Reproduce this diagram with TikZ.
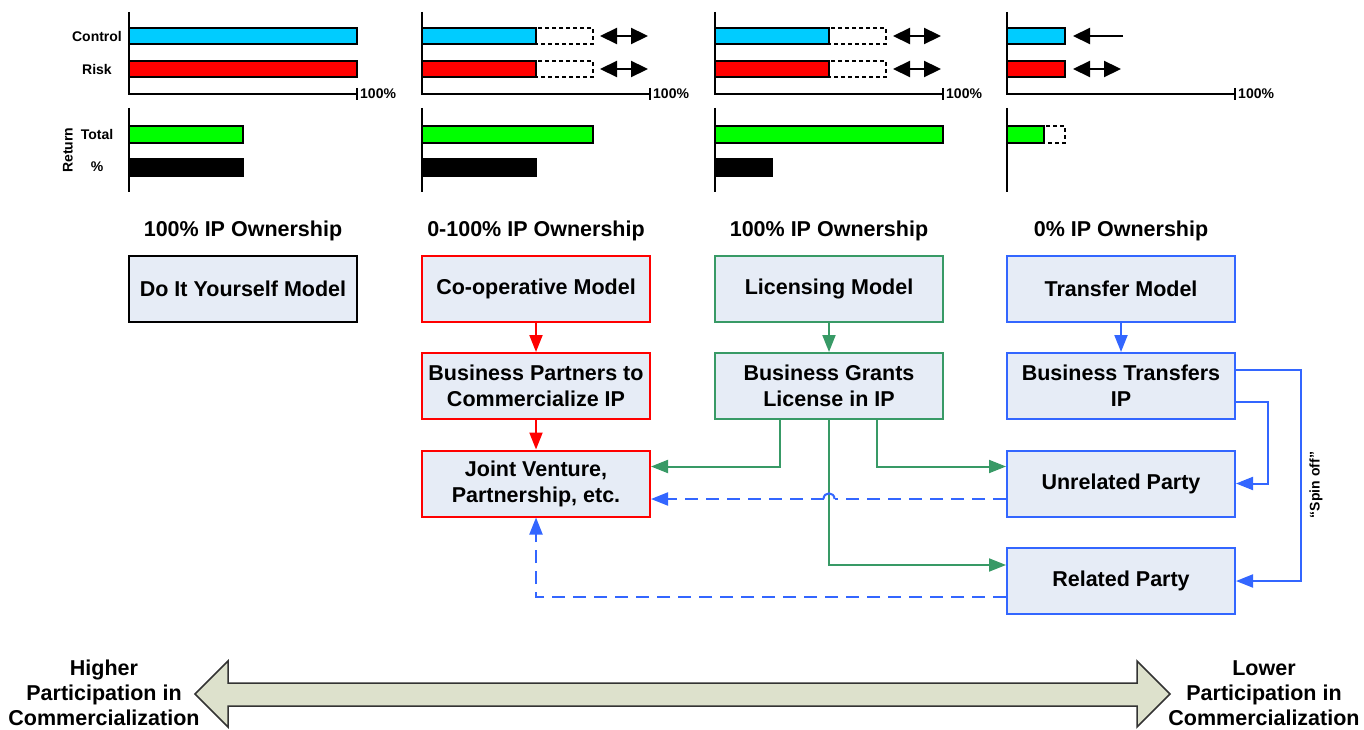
\documentclass[tikz,border=0pt]{standalone}
\usepackage{fontspec}
\setmainfont{Liberation Sans}
\usetikzlibrary{arrows.meta}
\definecolor{boxfill}{RGB}{230,236,246}
\definecolor{ipred}{RGB}{255,0,0}
\definecolor{ipgreen}{RGB}{56,154,102}
\definecolor{ipblue}{RGB}{51,102,255}
\definecolor{barcyan}{RGB}{0,204,255}
\definecolor{bargreen}{RGB}{0,255,0}
\definecolor{bandfill}{RGB}{221,225,204}
\begin{document}
\begin{tikzpicture}[x=1pt,y=-1pt,
  model/.style={draw=#1, fill=boxfill, line width=2pt, minimum width=228pt,
    minimum height=66pt, align=center, inner sep=0pt,
    font=\fontsize{21.5}{26}\selectfont\bfseries},
  title/.style={font=\fontsize{21.5}{26}\selectfont\bfseries},
  side/.style={align=center, font=\fontsize{21.5}{25}\selectfont\bfseries},
  small/.style={font=\fontsize{14}{16}\selectfont\bfseries, inner sep=0pt},
  axis/.style={line width=2pt, black},
  bar/.style={draw=black, line width=2.2pt},
  ghost/.style={draw=black, line width=1.8pt, dash pattern=on 4pt off 3pt},
  bigtip/.style={line width=2.2pt, black},
  twoway/.style={bigtip, {Triangle[length=17pt,width=16pt]}-{Triangle[length=17pt,width=16pt]}},
  oneway/.style={bigtip, -{Triangle[length=17pt,width=16pt]}},
  flow/.style={line width=2pt, -{Triangle[length=17pt,width=13pt]}},
  dflow/.style={flow, dash pattern=on 13pt off 8pt},
]
\useasboundingbox (0,0) rectangle (1364,730);

% ---------- bar charts: axes ----------
\foreach \x in {129,422,715,1007}{
  \draw[axis] (\x,12) -- (\x,94) -- (\x+228,94);
  \draw[axis] (\x+228,88) -- (\x+228,100);
  \draw[axis] (\x,108) -- (\x,192);
  \node[small, anchor=west] at (\x+231,94) {100\%};
}

% row labels
\node[small] (lctl) at (97,36) {Control};
\node[small] (lrisk) at (97,69) {Risk};
\node[small] (ltot) at (97,134) {Total};
\node[small] (lpct) at (97,167) {\%};
\node[small, rotate=90] (lret) at (68,150) {Return};

% ---------- do it yourself ----------
\filldraw[bar, fill=barcyan] (129,28) rectangle (357,44);
\filldraw[bar, fill=ipred] (129,61) rectangle (357,77);
\filldraw[bar, fill=bargreen] (129,126) rectangle (243,143);
\filldraw[bar, fill=black] (129,159) rectangle (243,176);

% ---------- co-operative ----------
\draw[ghost] (536,28) rectangle (593,44);
\draw[ghost] (536,61) rectangle (593,77);
\filldraw[bar, fill=barcyan] (422,28) rectangle (536,44);
\filldraw[bar, fill=ipred] (422,61) rectangle (536,77);
\filldraw[bar, fill=bargreen] (422,126) rectangle (593,143);
\filldraw[bar, fill=black] (422,159) rectangle (536,176);
\draw[twoway] (600,36) -- (648,36);
\draw[twoway] (600,69) -- (648,69);

% ---------- licensing ----------
\draw[ghost] (829,28) rectangle (886,44);
\draw[ghost] (829,61) rectangle (886,77);
\filldraw[bar, fill=barcyan] (715,28) rectangle (829,44);
\filldraw[bar, fill=ipred] (715,61) rectangle (829,77);
\filldraw[bar, fill=bargreen] (715,126) rectangle (943,143);
\filldraw[bar, fill=black] (715,159) rectangle (772,176);
\draw[twoway] (893,36) -- (941,36);
\draw[twoway] (893,69) -- (941,69);

% ---------- transfer ----------
\draw[ghost] (1044,126) rectangle (1065,143);
\filldraw[bar, fill=barcyan] (1007,28) rectangle (1065,44);
\filldraw[bar, fill=ipred] (1007,61) rectangle (1065,77);
\filldraw[bar, fill=bargreen] (1007,126) rectangle (1044,143);
\draw[oneway] (1123,36) -- (1073,36);
\draw[twoway] (1073,69) -- (1121,69);

% ---------- ownership titles ----------
\node[title] (t1) at (243,231) {100\% IP Ownership};
\node[title] (t2) at (536,231) {0-100\% IP Ownership};
\node[title] (t3) at (829,231) {100\% IP Ownership};
\node[title] (t4) at (1121,231) {0\% IP Ownership};

% ---------- model boxes ----------
\node[model=black] (diy) at (243,288.5) {Do It Yourself Model};
\node[model=ipred] (coop) at (536,288.5) {Co-operative Model};
\node[model=ipred] (partners) at (536,386) {Business Partners to\\Commercialize IP};
\node[model=ipred] (jv) at (536,483.5) {Joint Venture,\\Partnership, etc.};
\node[model=ipgreen] (lic) at (829,288.5) {Licensing Model};
\node[model=ipgreen] (grants) at (829,386) {Business Grants\\License in IP};
\node[model=ipblue] (transfer) at (1121,288.5) {Transfer Model};
\node[model=ipblue] (bt) at (1121,386) {Business Transfers\\IP};
\node[model=ipblue] (unrel) at (1121,483.5) {Unrelated Party};
\node[model=ipblue] (rel) at (1121,581) {Related Party};

% ---------- connectors ----------
\draw[flow, ipred] (coop) -- (partners);
\draw[flow, ipred] (partners) -- (jv);
\draw[flow, ipgreen] (lic) -- (grants);
\draw[flow, ipblue] (transfer) -- (bt);

\draw[flow, ipgreen] ([xshift=-49pt]grants.south) |- ([yshift=17pt]jv.east);
\draw[flow, ipgreen] ([xshift=48pt]grants.south) |- ([yshift=17pt]unrel.west);
\draw[flow, ipgreen] (grants.south) |- ([yshift=16pt]rel.west);

% dashed return line, hopping over the green vertical
\coordinate (hopR) at (834.5,499);
\coordinate (hopL) at (823.5,499);
\draw[line width=2pt, dash pattern=on 13pt off 8pt, ipblue]
  ([yshift=-15.5pt]unrel.west) -- (hopR);
\draw[line width=2pt, ipblue] (hopR) .. controls (834.5,491.5) and (823.5,491.5) .. (hopL);
\draw[dflow, ipblue] (hopL) -- ([yshift=-15.5pt]jv.east);
\draw[dflow, ipblue] ([yshift=-16pt]rel.west) -| (jv.south);

\draw[flow, ipblue] ([yshift=-16pt]bt.east) -- ++(32,0) |- (unrel.east);
\draw[flow, ipblue] ([yshift=16pt]bt.east) -- ++(65,0) |- (rel.east);
\node[small, rotate=90] (spin) at (1316,485) {``Spin off''};

% ---------- participation scale ----------
\filldraw[draw=black!80, fill=bandfill, line width=1.5pt]
  (195,694) -- (228,661) -- (228,683) -- (1137,683) -- (1137,661) -- (1170,694)
  -- (1137,727) -- (1137,706) -- (228,706) -- (228,727) -- cycle;
\node[side] (hi) at (104,693) {Higher\\Participation in\\Commercialization};
\node[side] (lo) at (1264,693) {Lower\\Participation in\\Commercialization};
\end{tikzpicture}
\end{document}
